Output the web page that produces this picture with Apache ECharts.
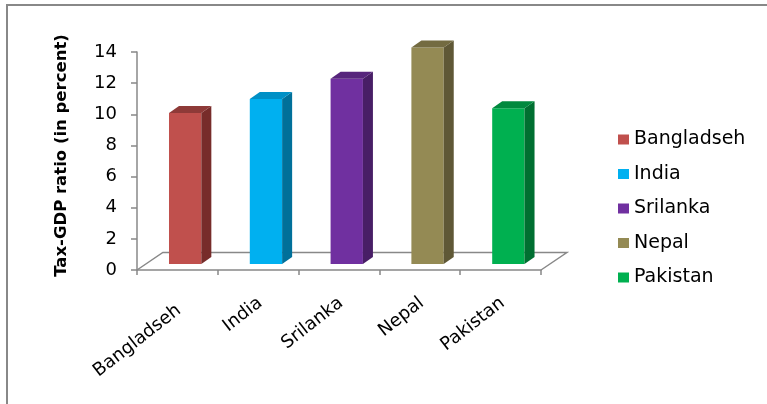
<!DOCTYPE html>
<html><head><meta charset="utf-8">
<script src="https://cdn.jsdelivr.net/npm/echarts@6/dist/echarts.min.js"></script>
<style>html,body{margin:0;padding:0;background:#fff}#c{width:767px;height:404px}</style>
</head><body><div id="c"></div>
<script>
const categories = ['Bangladseh', 'India', 'Srilanka', 'Nepal', 'Pakistan'];
const values = [9.7, 10.6, 11.9, 13.9, 10.0];
const yMin = 0, yMax = 14, yStep = 2;
const frontColors = ['#C0504D', '#00B0F0', '#7030A0', '#948A54', '#00B050'];
const topColors = ['#8E3A38', '#0090C6', '#57257C', '#736B41', '#00893E'];
const sideColors = ['#772C2A', '#00709A', '#481E66', '#5F5836', '#006F31'];
const axisGray = '#888888';
const font = 'DejaVu Sans';

function barRender(i) {
  return function (params, api) {
    const c0 = api.coord([api.value(0), 0]);
    const c1 = api.coord([api.value(0), api.value(1)]);
    const bw = api.size([1, 0])[0];
    const xl = c0[0] - 0.104 * bw, xr = xl + 0.40 * bw;
    const dx = 0.124 * bw, dy = 7, lift = 6;
    const yb = c0[1] - lift, yt = c1[1] - lift;
    return {
      type: 'group', children: [
        { type: 'rect', shape: { x: xl, y: yt, width: xr - xl, height: yb - yt }, style: { fill: frontColors[i] } },
        { type: 'polygon', shape: { points: [[xr, yt], [xr + dx, yt - dy], [xr + dx, yb - dy], [xr, yb]] }, style: { fill: sideColors[i] } },
        { type: 'polygon', shape: { points: [[xl, yt], [xl + dx, yt - dy], [xr + dx, yt - dy], [xr, yt]] }, style: { fill: topColors[i] } }
      ]
    };
  };
}

const series = [{
  type: 'custom', name: 'floor', silent: true, xAxisIndex: 0, yAxisIndex: 0,
  data: [[0, 0]], encode: { x: 0, y: 1 },
  renderItem: function (params, api) {
    const bw = api.size([1, 0])[0];
    const a = api.coord([0, 0]), b = api.coord([categories.length - 1, 0]);
    const L = a[0] - bw / 2, R = b[0] + bw / 2, y = a[1];
    const fx = 0.32 * bw, fy = 17.5;
    return { type: 'polyline', shape: { points: [[L, y], [L + fx, y - fy], [R + fx, y - fy], [R, y]] },
      style: { stroke: axisGray, lineWidth: 1.5, fill: null } };
  }
}];
categories.forEach(function (name, i) {
  series.push({
    type: 'custom', name: name, xAxisIndex: 0, yAxisIndex: 0, clip: false,
    itemStyle: { color: frontColors[i] },
    data: [[i, values[i]]], encode: { x: 0, y: 1 },
    renderItem: barRender(i)
  });
});

const chart = echarts.init(document.getElementById('c'));
chart.setOption({
  backgroundColor: '#fff',
  animation: false,
  graphic: [{ type: 'rect', shape: { x: 7, y: 5, width: 800, height: 450 }, style: { fill: null, stroke: axisGray, lineWidth: 2 }, z: 100 }],
  grid: [
    { left: 137, right: 226, top: 52, bottom: 134 },
    { left: 139, right: 224, top: 52, bottom: 134 }
  ],
  xAxis: [
    { type: 'category', gridIndex: 0, data: categories,
      axisLine: { lineStyle: { color: axisGray, width: 1.5 } },
      axisTick: { show: true, alignWithLabel: false, interval: 0, length: 5, lineStyle: { color: axisGray, width: 1.5 } },
      axisLabel: { show: false } },
    { type: 'category', gridIndex: 1, data: categories,
      axisLine: { show: false }, axisTick: { show: false },
      axisLabel: { interval: 0, rotate: 38, margin: 31, color: '#000', fontFamily: font, fontSize: 18,
        formatter: function (v, i) { return i === 0 ? '{s|' + v + '}' : v; },
        rich: { s: { color: '#000', fontFamily: font, fontSize: 18, padding: [11, 5, 0, 0] } } } }
  ],
  yAxis: [
    { type: 'value', gridIndex: 0, min: yMin, max: yMax, interval: yStep,
      name: 'Tax-GDP ratio (in percent)', nameLocation: 'middle', nameGap: 67, nameRotate: 90,
      nameTextStyle: { color: '#000', fontFamily: font, fontWeight: 'bold', fontSize: 16.5, padding: [0, 0, 0, 11] },
      axisLine: { show: true, lineStyle: { color: axisGray, width: 1.5 } },
      axisTick: { show: true, length: 6, lineStyle: { color: axisGray, width: 1.5 } },
      splitLine: { show: false },
      axisLabel: { color: '#000', fontFamily: font, fontSize: 18, margin: 20 } },
    { type: 'value', gridIndex: 1, min: yMin, max: yMax, show: false }
  ],
  legend: {
    data: categories, orient: 'vertical', left: 613, top: 125, itemGap: 15.5,
    itemWidth: 11, itemHeight: 10, icon: 'rect',
    textStyle: { color: '#000', fontFamily: font, fontSize: 19 }
  },
  series: series
});
</script></body></html>
